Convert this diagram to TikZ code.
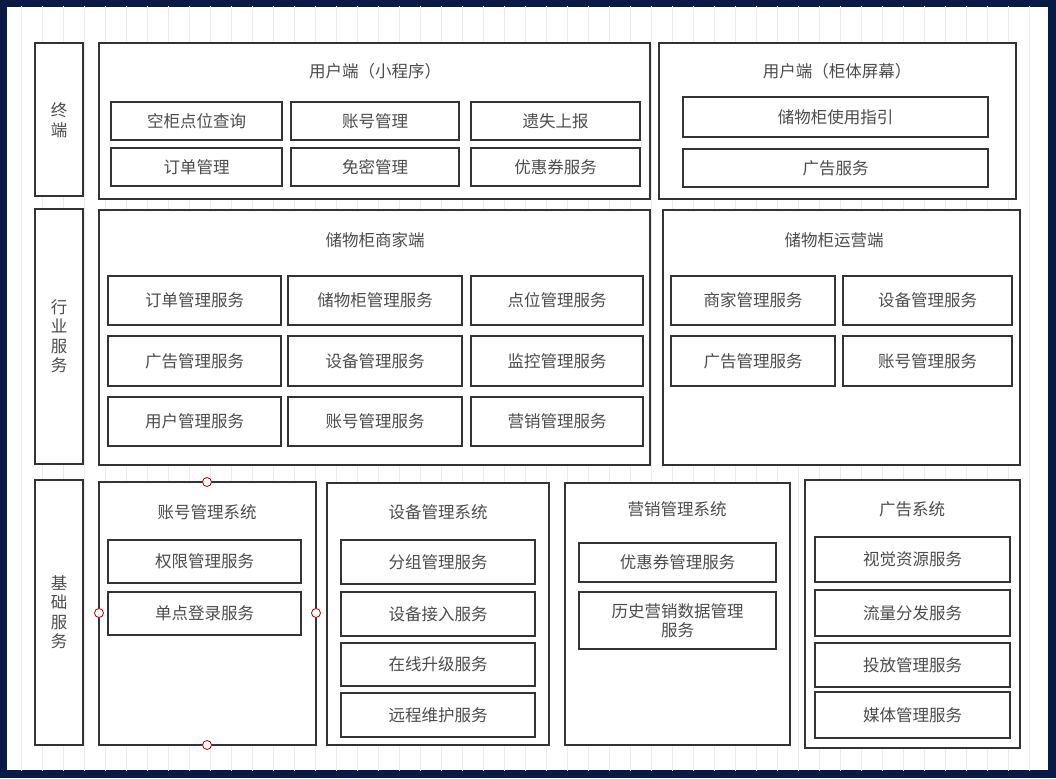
\documentclass[tikz,border=0pt]{standalone}
\usepackage{fontspec}
\setmainfont{Noto Sans CJK SC}
\definecolor{frame}{RGB}{10,26,70}
\begin{document}
\begin{tikzpicture}[x=1pt,y=-1pt,
  bx/.style={draw=black!80,line width=2.2pt,fill=white},
  lbl/.style={font=\fontsize{16.5}{19.5}\selectfont,text=black!70,align=center},
  hd/.style={circle,draw=red!70!black,fill=white,line width=0.8pt,inner sep=0pt,minimum size=9pt}]
\fill[frame] (0,0) rectangle (1056,778);
\fill[white] (7,7) rectangle (1048,770);
\begin{scope}
\clip (7,7) rectangle (1048,770);
\draw[black!8,line width=0.6pt,step=21] (0,0) grid (1056,778);
\end{scope}
\newcommand\bb[5]{\draw[bx] (#1,#2) rectangle (#3,#4); \node[lbl] at ({(#1+#3)/2},{(#2+#4)/2}) {#5};}
% left column
\draw[bx] (35,43) rectangle (83,196); \node[lbl] (t1) at (59,120) {终\\端};
\draw[bx] (35,209) rectangle (83,464); \node[lbl] (t2) at (59,336) {行\\业\\服\\务};
\draw[bx] (35,480) rectangle (83,745); \node[lbl] (t3) at (59,612) {基\\础\\服\\务};
% user mini
\draw[bx] (99,43) rectangle (650,199); \node[lbl] (u1) at (375,71) {用户端（小程序）};
\bb{111}{102}{282}{140}{空柜点位查询}
\bb{291}{102}{459}{140}{账号管理}
\bb{471}{102}{640}{140}{遗失上报}
\bb{111}{148}{282}{186}{订单管理}
\bb{291}{148}{459}{186}{免密管理}
\bb{471}{148}{640}{186}{优惠券服务}
% screen
\draw[bx] (659,43) rectangle (1016,199); \node[lbl] (u2) at (837,71) {用户端（柜体屏幕）};
\bb{683}{97}{988}{137}{储物柜使用指引}
\bb{683}{149}{988}{187}{广告服务}
% merchant
\draw[bx] (99,210) rectangle (650,465); \node[lbl] (m1) at (375,240) {储物柜商家端};
\bb{108}{276}{281}{325}{订单管理服务}
\bb{288}{276}{462}{325}{储物柜管理服务}
\bb{471}{276}{643}{325}{点位管理服务}
\bb{108}{336}{281}{386}{广告管理服务}
\bb{288}{336}{462}{386}{设备管理服务}
\bb{471}{336}{643}{386}{监控管理服务}
\bb{108}{397}{281}{446}{用户管理服务}
\bb{288}{397}{462}{446}{账号管理服务}
\bb{471}{397}{643}{446}{营销管理服务}
% operator
\draw[bx] (663,210) rectangle (1020,465); \node[lbl] (o1) at (834,240) {储物柜运营端};
\bb{671}{276}{835}{325}{商家管理服务}
\bb{843}{276}{1012}{325}{设备管理服务}
\bb{671}{336}{835}{386}{广告管理服务}
\bb{843}{336}{1012}{386}{账号管理服务}
% account system
\draw[bx] (99,482) rectangle (316,745); \node[lbl] (a1) at (207,512) {账号管理系统};
\bb{108}{540}{301}{583}{权限管理服务}
\bb{108}{592}{301}{635}{单点登录服务}
\node[hd] (h1) at (207,482) {}; \node[hd] (h2) at (207,745) {};
\node[hd] (h3) at (99,613) {}; \node[hd] (h4) at (316,613) {};
% device system
\draw[bx] (327,483) rectangle (549,745); \node[lbl] (d1) at (438,512) {设备管理系统};
\bb{341}{540}{535}{584}{分组管理服务}
\bb{341}{592}{535}{636}{设备接入服务}
\bb{341}{643}{535}{686}{在线升级服务}
\bb{341}{693}{535}{737}{远程维护服务}
% marketing
\draw[bx] (565,483) rectangle (790,745); \node[lbl] (k1) at (677,509) {营销管理系统};
\bb{579}{543}{776}{582}{优惠券管理服务}
\bb{579}{592}{776}{649}{历史营销数据管理\\服务}
% ad
\draw[bx] (805,480) rectangle (1020,748); \node[lbl] (g1) at (912,509) {广告系统};
\bb{815}{537}{1010}{582}{视觉资源服务}
\bb{815}{590}{1010}{636}{流量分发服务}
\bb{815}{643}{1010}{687}{投放管理服务}
\bb{815}{692}{1010}{738}{媒体管理服务}
\end{tikzpicture}
\end{document}
